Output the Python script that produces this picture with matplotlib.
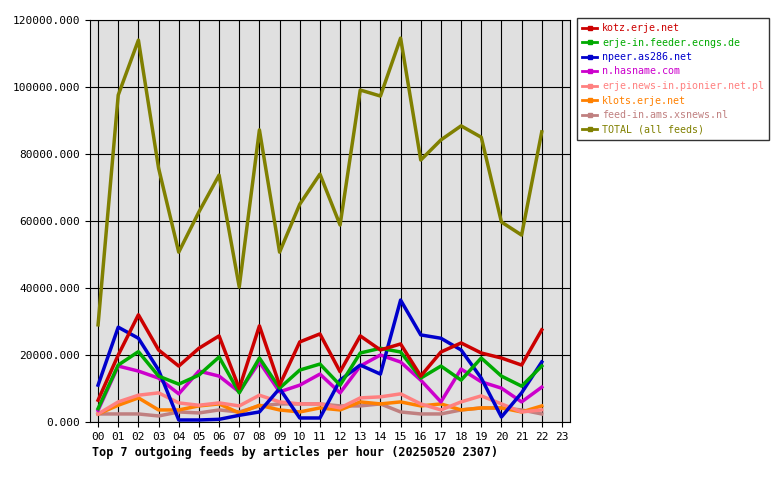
import matplotlib
matplotlib.use("Agg")
import matplotlib.pyplot as plt
from matplotlib.lines import Line2D

hours = list(range(23))
xlabels = [f"{h:02d}" for h in range(24)]
names = ["kotz.erje.net", "erje-in.feeder.ecngs.de", "npeer.as286.net", "n.hasname.com",
         "erje.news-in.pionier.net.pl", "klots.erje.net", "feed-in.ams.xsnews.nl", "TOTAL (all feeds)"]
colors = ["#cc0000", "#00aa00", "#0000cc", "#cc00cc", "#ff8080", "#ff8000", "#c08080", "#808000"]

kotz = [6500,20000,32000,21500,16700,22000,25700,10000,28700,11000,23900,26300,15000,25700,21500,23300,13700,20900,23600,20600,19100,17000,27500]
erjein = [4000,17000,21000,13700,11300,14000,19400,8700,19100,10100,15500,17300,11000,20600,22000,20900,13100,16700,12500,19100,13700,10700,16700]
npeer = [11000,28300,25000,15500,600,600,800,2000,3000,10000,1200,1200,12500,17000,14300,36400,26000,25000,21500,13100,1500,8700,17900]
hasname = [3500,16700,15200,13100,8400,15200,13700,9000,17900,9000,11000,14300,8700,16700,20000,17900,12500,6000,15800,12000,10100,6000,10400]
pionier = [2400,6000,8000,8700,5700,5000,5700,4800,8000,6000,5400,5400,4200,7200,7500,8400,5400,3600,6000,7800,5400,3000,3600]
klots = [2400,5000,7200,3600,3600,4800,5400,2700,5000,3600,3000,4200,3600,6000,5400,6000,4800,5400,3600,4200,4200,3000,4800]
xsnews = [2400,2400,2400,1800,3000,2700,3600,3000,4800,5400,5400,5400,4800,4800,5400,3000,2400,2400,3600,4200,4200,3600,2400]
total = [29000,97600,114000,75800,50700,62700,73700,40300,87200,50700,65000,74000,58800,99100,97300,114600,78200,84200,88400,85000,59700,55800,86600]
series = [kotz, erjein, npeer, hasname, pionier, klots, xsnews, total]

plt.rcParams['font.family'] = ['DejaVu Sans Mono']
fig = plt.figure(figsize=(7.8, 4.8), dpi=100)
ax = fig.add_axes([90/780, 58/480, 480/780, 402/480])
ax.set_facecolor("#e0e0e0")
for s, c in zip(reversed(series), reversed(colors)):
    ax.plot(hours, s, color=c, lw=2.5, zorder=3)
ax.set_xlim(-0.4, 23.4)
ax.set_ylim(0, 120000)
ax.set_xticks(range(24))
ax.set_xticklabels(xlabels, fontsize=8)
yt = list(range(0, 120001, 20000))
ax.set_yticks(yt)
ax.set_yticklabels([f"{v}.000" for v in yt], fontsize=8)
ax.grid(True, color="black", lw=0.8, zorder=1)
ax.set_axisbelow(True)
for sp in ax.spines.values():
    sp.set_color("black")
fig.text(92/780, 1-452/480, "Top 7 outgoing feeds by articles per hour (20250520 2307)",
         fontsize=8.5, fontweight="bold", va="center")
handles = [Line2D([0], [0], color=c, lw=2, marker='s', markersize=3) for c in colors]
leg = fig.legend(handles, names, loc="upper left", bbox_to_anchor=(577/780, 1-18/480),
                 fontsize=7.2, frameon=True, fancybox=False, edgecolor="black",
                 handlelength=1.5, handletextpad=0.5, labelspacing=0.45, borderpad=0.5,
                 borderaxespad=0)
for t, c in zip(leg.get_texts(), colors):
    t.set_color(c)
fig.savefig("out.png", dpi=100)
